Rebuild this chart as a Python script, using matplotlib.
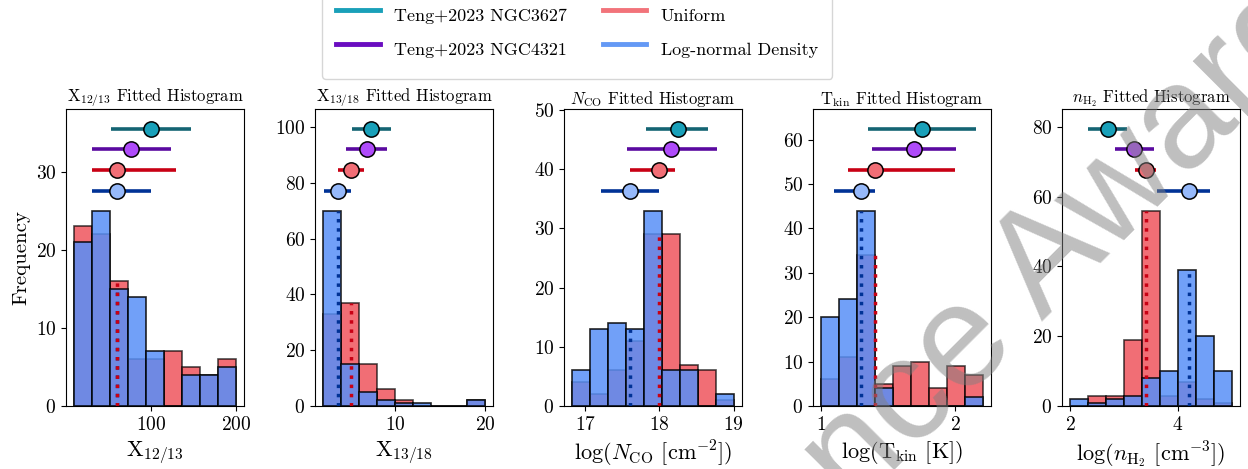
import matplotlib.pyplot as plt
import numpy as np
from matplotlib.lines import Line2D

plt.rcParams['font.family'] = 'cmr10'
plt.rcParams['mathtext.fontset'] = 'cm'
plt.rcParams['axes.formatter.use_mathtext'] = True
plt.rcParams['axes.unicode_minus'] = False

# bin ranges of the five parameters (9 bins each)
ranges = [(9.0, 200.0), (2.0, 20.0), (16.825, 19.0), (1.0, 2.208), (2.0, 5.0)]
n_bins = 9

# counts per bin
uni_counts = [
    [23, 22, 16, 6, 6, 7, 5, 4, 6],
    [33, 37, 15, 6, 2, 0, 0, 0, 2],
    [4, 2, 6, 11, 29, 29, 7, 6, 1],
    [6, 11, 34, 5, 9, 10, 4, 9, 7],
    [0, 3, 3, 19, 56, 3, 7, 2, 1],
]
lgn_counts = [
    [21, 25, 15, 14, 7, 0, 4, 4, 5],
    [70, 15, 5, 2, 1, 1, 0, 0, 2],
    [6, 13, 14, 13, 33, 6, 6, 0, 2],
    [20, 24, 44, 4, 0, 0, 0, 0, 2],
    [2, 1, 2, 3, 8, 10, 39, 20, 10],
]

# medians with lower / upper bounds
uni_med = [59.6, 5.13, 18.0, 1.40, 3.40]
uni_lo = [29.8, 3.62, 17.61, 1.20, 3.20]
uni_hi = [129.8, 6.60, 18.21, 2.00, 3.60]

lgn_med = [59.6, 3.62, 17.61, 1.30, 4.21]
lgn_lo = [29.8, 2.10, 17.22, 1.10, 3.61]
lgn_hi = [100.0, 5.13, 18.00, 1.40, 4.60]

# Teng+2023 values
n3627_med = [100.0, 7.38, 18.25, 1.755, 2.70]
n3627_lo = [53.0, 5.24, 17.82, 1.35, 2.34]
n3627_hi = [147.0, 9.56, 18.65, 2.16, 3.06]

n4321_med = [76.5, 6.86, 18.16, 1.695, 3.19]
n4321_lo = [29.8, 4.58, 17.56, 1.38, 2.83]
n4321_hi = [123.5, 9.15, 18.78, 2.01, 3.55]

titles = [r'X$_{12/13}$ Fitted Histogram', r'X$_{13/18}$ Fitted Histogram',
          r'$N_{\mathrm{CO}}$ Fitted Histogram', r'T$_{\mathrm{kin}}$ Fitted Histogram',
          r'$n_{\mathrm{H_2}}$ Fitted Histogram']
xlabels = [r'X$_{12/13}$', r'X$_{13/18}$', r'log($N_{\mathrm{CO}}$ [cm$^{-2}$])',
           r'log(T$_{\mathrm{kin}}$ [K])', r'log($n_{\mathrm{H_2}}$ [cm$^{-3}$])']
xticks = [[100, 200], [10, 20], [17, 18, 19], [1, 2], [2, 4]]

# colours
uni_face, uni_dark, uni_mark = '#ec303b', '#c80014', '#f26e76'
lgn_face, lgn_dark, lgn_mark = '#588ff7', '#003296', '#96b9fa'
n3627_dark, n3627_mark = '#146473', '#19a0b9'
n4321_dark, n4321_mark = '#5a0aa0', '#af4bfa'

fig = plt.figure(figsize=(12.48, 4.69), dpi=100)

for i in range(5):
    ax = fig.add_axes([0.0529 + i * 0.1995, 0.1343, 0.1426, 0.6333])
    edges = np.linspace(ranges[i][0], ranges[i][1], n_bins + 1)
    widths = np.diff(edges)
    uc = np.array(uni_counts[i])
    lc = np.array(lgn_counts[i])

    ax.bar(edges[:-1], uc, width=widths, align='edge', color=uni_face,
           alpha=0.7, edgecolor='k', linewidth=1.2)
    ax.bar(edges[:-1], lc, width=widths, align='edge', color=lgn_face,
           alpha=0.85, edgecolor='k', linewidth=1.2)

    # dotted median lines, up to the height of their bin
    lb = min(np.searchsorted(edges, lgn_med[i]) - 1, n_bins - 1)
    ub = min(np.searchsorted(edges, uni_med[i]) - 1, n_bins - 1)
    ax.vlines(lgn_med[i], 0, lc[lb], color=lgn_dark, linestyle=':', linewidth=2.5)
    ax.vlines(uni_med[i], 0, uc[ub], color=uni_dark, linestyle=':', linewidth=2.5)

    ytop = 1.52 * max(uc.max(), lc.max())
    ax.set_ylim(0, ytop)

    rows = [
        (n3627_med, n3627_lo, n3627_hi, n3627_dark, n3627_mark, 0.933),
        (n4321_med, n4321_lo, n4321_hi, n4321_dark, n4321_mark, 0.864),
        (uni_med, uni_lo, uni_hi, uni_dark, uni_mark, 0.795),
        (lgn_med, lgn_lo, lgn_hi, lgn_dark, lgn_mark, 0.725),
    ]
    for med, lo, hi, dark, mark, yf in rows:
        ax.errorbar(med[i], yf * ytop,
                    xerr=[[med[i] - lo[i]], [hi[i] - med[i]]],
                    fmt='o', color=dark, ecolor=dark, elinewidth=2.6,
                    markerfacecolor=mark, markeredgecolor='k',
                    markeredgewidth=1.1, markersize=11, capsize=0)

    ax.set_xticks(xticks[i])
    ax.tick_params(labelsize=14)
    ax.set_title(titles[i], fontsize=12, pad=3)
    ax.set_xlabel(xlabels[i], fontsize=16)
    if i == 0:
        ax.set_ylabel('Frequency', fontsize=15)

handles = [Line2D([], [], color='#19a0b9', lw=3.5),
           Line2D([], [], color='#6a0dc0', lw=3.5),
           Line2D([], [], color='#f2737a', lw=3.5),
           Line2D([], [], color='#6499f5', lw=3.5)]
labels = ['Teng+2023 NGC3627', 'Teng+2023 NGC4321', 'Uniform', 'Log-normal Density']
fig.legend(handles, labels, loc='upper center', bbox_to_anchor=(0.4625, 1.05),
           ncol=2, fontsize=13, handlelength=2.4, columnspacing=2.0,
           handleheight=2.2, labelspacing=0.2, borderpad=0.8)

fig.text(0.3894, -0.872, 'Conference Award', rotation=45, rotation_mode='anchor',
         ha='left', va='baseline', fontsize=105, color='gray', alpha=0.5,
         family='Liberation Sans', zorder=10)

fig.savefig('out.png', dpi=100)
